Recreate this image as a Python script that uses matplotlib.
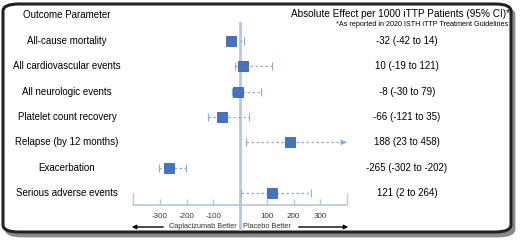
import numpy as np
import matplotlib.pyplot as plt
from matplotlib.patches import FancyBboxPatch, FancyArrowPatch

outcomes = ["All-cause mortality", "All cardiovascular events", "All neurologic events",
            "Platelet count recovery", "Relapse (by 12 months)", "Exacerbation",
            "Serious adverse events"]
effect = [-32, 10, -8, -66, 188, -265, 121]
ci_low = [-42, -19, -30, -121, 23, -302, 2]
ci_high = [14, 121, 79, 35, 458, -202, 264]
tick_vals = [-400, -300, -200, -100, 0, 100, 200, 300, 400]
tick_text = ["", "-300", "-200", "-100", "", "100", "200", "300", ""]

plt.rcParams['font.family'] = ['Liberation Sans', 'DejaVu Sans']

W, H = 520, 240
fig = plt.figure(figsize=(5.2, 2.4), dpi=100)

# frame with shadow
shadow = FancyBboxPatch((6 / W, 1 - 236 / H), 508 / W, 228 / H,
                        boxstyle="round,pad=0,rounding_size=0.03",
                        transform=fig.transFigure, facecolor="#8a8a8a",
                        edgecolor="#8a8a8a", lw=2, zorder=0)
frame = FancyBboxPatch((3 / W, 1 - 232 / H), 508 / W, 228 / H,
                       boxstyle="round,pad=0,rounding_size=0.03",
                       transform=fig.transFigure, facecolor="white",
                       edgecolor="#222222", lw=2.2, zorder=1)
fig.patches.extend([shadow, frame])

xmin, xmax = -400, 400
ax_l, ax_r, ax_t, ax_b = 133, 347, 23, 205
ax = fig.add_axes([ax_l / W, 1 - ax_b / H, (ax_r - ax_l) / W, (ax_b - ax_t) / H])
ax.patch.set_alpha(0)
ax.set_zorder(3)
rows = np.arange(len(outcomes))
ax.set_xlim(xmin, xmax)
ax.set_ylim(len(outcomes) - 0.53, -0.71)

line_c = "#b4c7e7"
ci_c = "#8eaadb"
sq_c = "#4472c4"

# zero line, extends below axis
ax.axvline(0, ymin=-0.13, ymax=1, color=line_c, lw=2, clip_on=False, zorder=1)

lo = np.clip(ci_low, xmin, xmax)
hi = np.clip(ci_high, xmin, xmax)
ax.hlines(rows, lo, hi, colors=ci_c, lw=0.9, linestyles=(0, (2, 2)), zorder=2)
ax.plot(lo, rows, ls="none", marker="|", ms=6, mew=0.8, color=ci_c, zorder=2)
capped = np.array(ci_high) <= xmax
ax.plot(hi[capped], rows[capped], ls="none", marker="|", ms=6, mew=0.8, color=ci_c, zorder=2)
for r in rows[~capped]:
    ax.annotate("", xy=(xmax + 8, r), xytext=(xmax - 20, r),
                arrowprops=dict(arrowstyle="-|>", color=ci_c, lw=0.9,
                                mutation_scale=7), annotation_clip=False)
ax.plot(effect, rows, ls="none", marker="s", ms=7, mfc=sq_c, mec="#3a62a8",
        mew=0.6, zorder=4)

for s in ["top", "right", "left"]:
    ax.spines[s].set_visible(False)
ax.spines["bottom"].set_color(line_c)
ax.spines["bottom"].set_linewidth(1.2)
ax.set_yticks([])
ax.set_xticks(tick_vals)
ax.set_xticklabels(tick_text, fontsize=5.8, color="#333333")
ax.tick_params(axis="x", direction="in", length=4, width=1, color=line_c, pad=6)
for t in ax.xaxis.get_major_ticks():
    if t.get_loc() in (xmin, xmax):
        t.tick1line.set_markersize(9)

# left column
fig.text(67 / W, 1 - 15 / H, "Outcome Parameter", ha="center", va="center", fontsize=7)
for r, name in zip(rows, outcomes):
    y = ax.transData.transform((0, r))[1] / fig.dpi / 2.4
    fig.text(67 / W, y, name, ha="center", va="center", fontsize=7)

# right column
fig.text(510 / W, 1 - 14 / H, "Absolute Effect per 1000 iTTP Patients (95% CI)*",
         ha="right", va="center", fontsize=7.2)
fig.text(508 / W, 1 - 24 / H, "*As reported in 2020 ISTH iTTP Treatment Guidelines",
         ha="right", va="center", fontsize=5.2)
for r, e, a, b in zip(rows, effect, ci_low, ci_high):
    y = ax.transData.transform((0, r))[1] / fig.dpi / 2.4
    fig.text(407 / W, y, f"{e} ({a} to {b})", ha="center", va="center", fontsize=7)

# direction labels
fig.text(237 / W, 1 - 227 / H, "Caplacizumab Better", ha="right", va="center",
         fontsize=5.3, color="#333333")
fig.text(243 / W, 1 - 227 / H, "Placebo Better", ha="left", va="center",
         fontsize=5.3, color="#333333")
fig.patches.append(FancyArrowPatch(
    (166 / W, 1 - 227 / H), (129 / W, 1 - 227 / H), transform=fig.transFigure,
    arrowstyle="-|>", mutation_scale=6, color="black", lw=1))
fig.patches.append(FancyArrowPatch(
    (296 / W, 1 - 227 / H), (351 / W, 1 - 227 / H), transform=fig.transFigure,
    arrowstyle="-|>", mutation_scale=6, color="black", lw=1))

fig.savefig("out.png", dpi=100)
